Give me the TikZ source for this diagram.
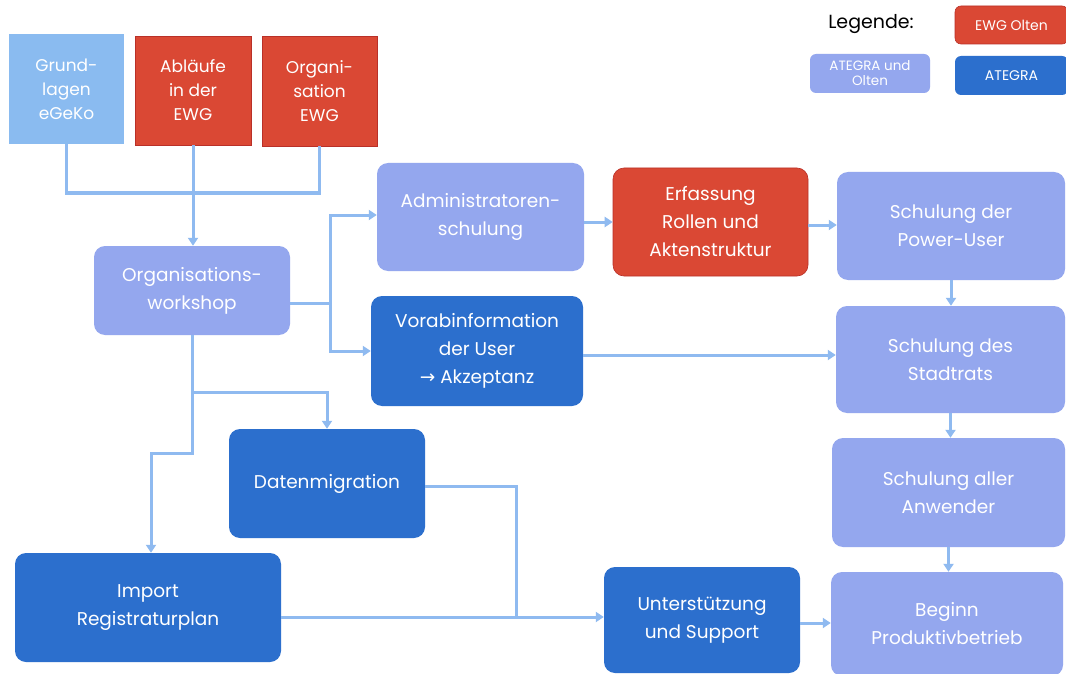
\documentclass[tikz,border=0pt]{standalone}
\usepackage{fontspec}
\setmainfont{Poppins}
\newfontfamily\symf{DejaVu Sans}
\usetikzlibrary{arrows.meta}
\definecolor{cred}{RGB}{218,72,52}
\definecolor{credb}{RGB}{185,48,40}
\definecolor{cdark}{RGB}{44,111,205}
\definecolor{clight}{RGB}{148,167,238}
\definecolor{csky}{RGB}{138,187,240}
\definecolor{cconn}{RGB}{143,186,240}
\begin{document}
\begin{tikzpicture}[x=1pt,y=-1pt,
  box/.style={rectangle, inner sep=0pt, text=white, align=center, font=\fontsize{18.5}{28}\selectfont},
  rbox/.style={box, rounded corners=11pt},
  topbox/.style={box, font=\fontsize{17}{24}\selectfont},
  redbox/.style={fill=cred, draw=credb, line width=0.6pt},
  darkbox/.style={fill=cdark},
  lightbox/.style={fill=clight},
  skybox/.style={fill=csky},
  legbox/.style={rbox, rounded corners=6pt, font=\fontsize{14}{16}\selectfont},
  conn/.style={draw=cconn, line width=3pt},
  arr/.style={conn, -{Triangle[width=10pt,length=8pt]}},
]
\fill[white] (0,0) rectangle (1066,674);
\useasboundingbox (0,0) rectangle (1066,674);

% top row
\node[topbox, skybox, minimum width=115pt, minimum height=110pt] (grund) at (66.5,89) {Grund-\\lagen\\eGeKo};
\node[topbox, redbox, minimum width=116pt, minimum height=109pt] (ablauf) at (193,90.5) {Abläufe\\in der\\EWG};
\node[topbox, redbox, minimum width=115pt, minimum height=110pt] (orgewg) at (319.5,91) {Organi-\\sation\\EWG};

% main boxes
\node[rbox, lightbox, minimum width=196pt, minimum height=89pt] (workshop) at (192,290.5) {Organisations-\\workshop};
\node[rbox, lightbox, minimum width=207pt, minimum height=108pt] (admin) at (480.5,217) {Administratoren-\\schulung};
\node[rbox, redbox, minimum width=195pt, minimum height=108pt] (erfass) at (710.5,222) {Erfassung\\Rollen und\\Aktenstruktur};
\node[rbox, lightbox, minimum width=228pt, minimum height=108pt] (power) at (951,226) {Schulung der\\Power-User};
\node[rbox, darkbox, minimum width=212pt, minimum height=110pt] (vorab) at (477,351) {Vorabinformation\\der User\\{\symf →} Akzeptanz};
\node[rbox, lightbox, minimum width=229pt, minimum height=107pt] (stadt) at (950.5,359.5) {Schulung des\\Stadtrats};
\node[rbox, darkbox, minimum width=196pt, minimum height=109pt] (daten) at (327,483.5) {Datenmigration};
\node[rbox, lightbox, minimum width=233pt, minimum height=109pt] (anw) at (948.5,492.5) {Schulung aller\\Anwender};
\node[rbox, darkbox, minimum width=266pt, minimum height=109pt] (import) at (148,607.5) {Import\\Registraturplan};
\node[rbox, darkbox, minimum width=196pt, minimum height=106pt] (unter) at (702,620) {Unterstützung\\und Support};
\node[rbox, lightbox, minimum width=232pt, minimum height=104pt] (beginn) at (947,624) {Beginn\\Produktivbetrieb};

% legend
\node[text=black, font=\fontsize{19}{22}\selectfont, inner sep=0pt] (legtitle) at (871,24) {Legende:};
\node[legbox, redbox, minimum width=113pt, minimum height=38pt] (legred) at (1011.5,25) {EWG Olten};
\node[legbox, lightbox, minimum width=120pt, minimum height=39pt, font=\fontsize{13.5}{15}\selectfont] (leglight) at (870,73.5) {ATEGRA und\\Olten};
\node[legbox, darkbox, minimum width=113pt, minimum height=39pt] (legdark) at (1011.5,75.5) {ATEGRA};

% junction coordinates
\coordinate (j1) at (193,193);
\coordinate (j2) at (330,303);
\coordinate (j3) at (192,392);
\coordinate (j4) at (151,453);
\coordinate (j5) at (516,617);

% connectors
\draw[conn] (grund.south) |- (j1) -| (orgewg.south);
\draw[arr] (ablauf.south) -- (ablauf.south |- workshop.north);
\draw[conn] (workshop.east |- j2) -- (j2);
\draw[arr] (j2) |- (admin.west |- 0,215);
\draw[arr] (j2) |- (vorab.west);
\draw[arr] (admin.east |- erfass.west) -- (erfass.west);
\draw[arr] (erfass.east |- 0,225) -- (power.west |- 0,225);
\draw[arr] (vorab.east |- 0,355) -- (stadt.west |- 0,355);
\draw[arr] (power.south) -- (power.south |- stadt.north);
\draw[arr] (stadt.south) -- (stadt.south |- anw.north);
\draw[arr] (anw.south) -- (anw.south |- beginn.north);
\draw[arr] (workshop.south) |- (j4) -- (j4 |- import.north);
\draw[arr] (j3) -| (daten.north);
\draw[conn] (daten.east |- 0,486) -| (j5);
\draw[arr] (import.east |- j5) -- (unter.west |- j5);
\draw[arr] (unter.east |- 0,623) -- (beginn.west |- 0,623);
\end{tikzpicture}
\end{document}
